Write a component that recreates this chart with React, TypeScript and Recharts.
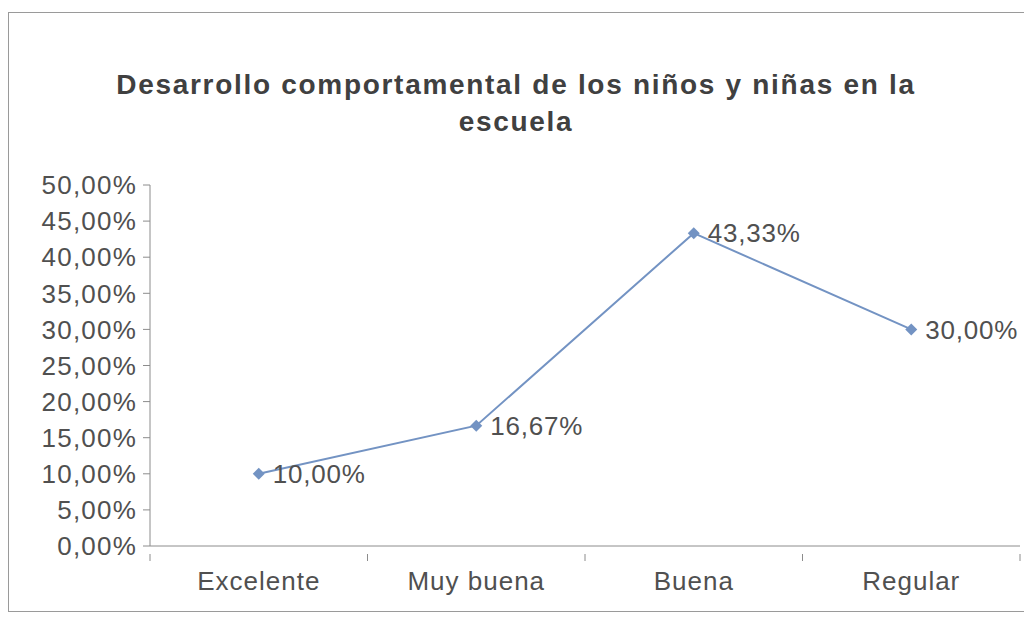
import { LineChart, Line, XAxis, YAxis, LabelList } from "recharts";

const categories = ["Excelente", "Muy buena", "Buena", "Regular"];
const shares = [0.1, 0.1667, 0.4333, 0.3];
const yTicks = [0, 0.05, 0.1, 0.15, 0.2, 0.25, 0.3, 0.35, 0.4, 0.45, 0.5];

const data = categories.map((name, i) => ({ name, value: shares[i] }));

const pct = (v: number) => (v * 100).toFixed(2).replace(".", ",") + "%";

const FONT = "'Liberation Sans', Arial, sans-serif";
const LINE = "#7393c3";
const AXIS = "#8c8c8c";
const TEXT = "#505050";

const W = 1032;
const H = 624;
const M = { top: 185, right: 12, bottom: 18, left: 0 };
const Y_AXIS_W = 150;
const BAND = (W - M.left - M.right - Y_AXIS_W) / categories.length;

const Diamond = (props: any) => {
  const { cx, cy } = props;
  if (cx == null || cy == null) return null;
  const r = 6;
  return (
    <polygon
      points={`${cx},${cy - r} ${cx + r},${cy} ${cx},${cy + r} ${cx - r},${cy}`}
      fill={LINE}
    />
  );
};

// category label plus Excel-style tick marks between the categories
const CategoryTick = (props: any) => {
  const { x, y, payload, index } = props;
  const left = x - BAND / 2;
  const right = x + BAND / 2;
  return (
    <g>
      <line x1={left} y1={y} x2={left} y2={y + 7} stroke={AXIS} />
      {index === categories.length - 1 && (
        <line x1={right} y1={y} x2={right} y2={y + 7} stroke={AXIS} />
      )}
      <text
        x={x}
        y={y + 36}
        textAnchor="middle"
        fontSize={26}
        letterSpacing={1}
        fill={TEXT}
        fontFamily={FONT}
      >
        {payload.value}
      </text>
    </g>
  );
};

export default function App() {
  return (
    <div
      style={{
        position: "relative",
        width: W,
        height: H,
        margin: -8,
        background: "#fff",
        fontFamily: FONT,
      }}
    >
      <div
        style={{
          position: "absolute",
          left: 8,
          top: 12,
          width: 1021,
          height: 600,
          border: "1px solid #9a9a9a",
          boxSizing: "border-box",
        }}
      />
      <div
        style={{
          position: "absolute",
          left: 0,
          top: 66,
          width: W,
          textAlign: "center",
          fontSize: 28,
          fontWeight: 700,
          letterSpacing: 1.7,
          lineHeight: "37px",
          color: "#404040",
        }}
      >
        Desarrollo comportamental de los niños y niñas en la
        <br />
        escuela
      </div>
      <div style={{ position: "absolute", left: 0, top: 0 }}>
        <LineChart width={W} height={H} data={data} margin={M}>
          <XAxis
            dataKey="name"
            scale="band"
            height={60}
            axisLine={{ stroke: AXIS }}
            tickLine={false}
            interval={0}
            tick={<CategoryTick />}
          />
          <YAxis
            domain={[0, 0.5]}
            ticks={yTicks}
            width={Y_AXIS_W}
            interval={0}
            axisLine={{ stroke: AXIS }}
            tickLine={{ stroke: AXIS }}
            tickSize={7}
            tickMargin={6}
            tickFormatter={pct}
            tick={{ fontSize: 26, fill: TEXT, fontFamily: FONT, letterSpacing: 1.2 }}
          />
          <Line
            dataKey="value"
            stroke={LINE}
            strokeWidth={2}
            dot={<Diamond />}
            activeDot={false}
            isAnimationActive={false}
          >
            <LabelList
              dataKey="value"
              position="right"
              offset={14}
              formatter={(v: any) => pct(Number(v))}
              style={{ fontSize: 26, fill: TEXT, fontFamily: FONT, letterSpacing: 0.8 }}
            />
          </Line>
        </LineChart>
      </div>
    </div>
  );
}
